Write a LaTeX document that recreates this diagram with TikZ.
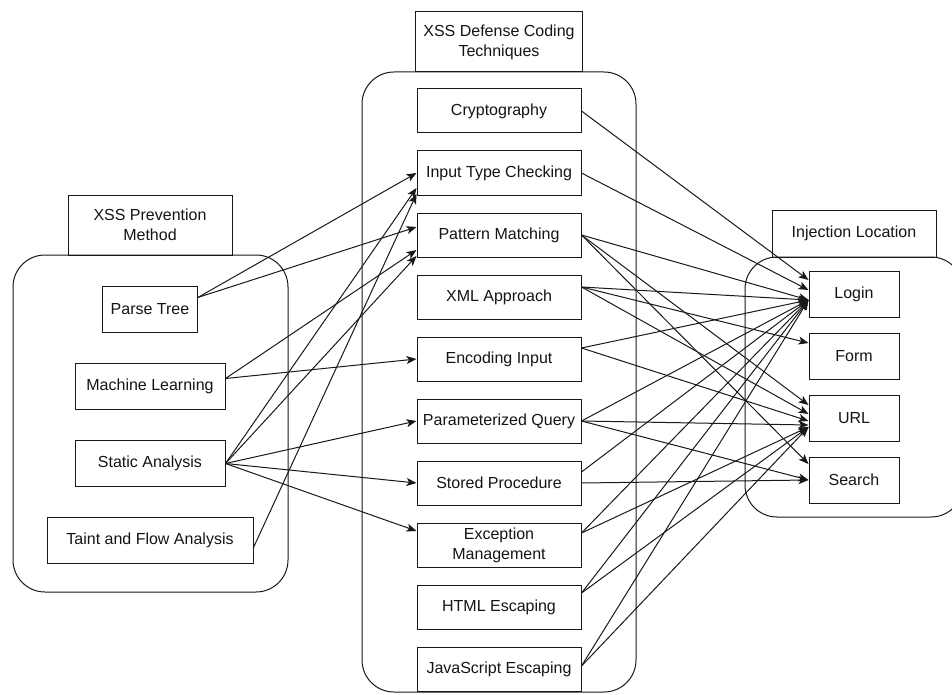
\documentclass[tikz,border=0pt]{standalone}
\usepackage{fontspec}
\setmainfont{Liberation Sans}
\usepackage{tikz}
\usetikzlibrary{positioning, calc, arrows.meta}

\begin{document}
\begin{tikzpicture}[
  x=1pt, y=-1pt,
  every node/.style={
    align=center,
    draw=strokeish,
    text=textish,
    line width=1pt,
    inner ysep=0pt,
    inner xsep=8pt,
    font=\fontsize{16pt}{20pt}\selectfont,
  },
  tech/.style={minimum width=164pt, minimum height=44pt, inner xsep=5pt},
  place/.style={minimum width=90pt, minimum height=46pt},
  method/.style={minimum height=46pt},
  header/.style={minimum width=164pt, minimum height=60pt},
  group/.style={draw=strokeish, line width=1pt, rounded corners=32pt},
  link/.style={draw=strokeish, line width=1pt, -{Stealth[length=10pt, width=8pt, inset=2.5pt]}},
]
  \definecolor{strokeish}{RGB}{25,25,25}
  \definecolor{textish}{RGB}{20,20,20}
  \useasboundingbox (0,0) rectangle (952,695);

  \draw[group] (13,255) rectangle (288,592);
  \draw[group] (362,72) rectangle (636,692);
  \draw[group] (745,257) rectangle (963,517);

  \node[header] (prevhead) at (150,225) {XSS Prevention\\Method};
  \node[header] (defhead) at (499,42) {XSS Defense Coding\\Techniques};
  \node[
    minimum width=164pt,
    minimum height=47pt,
  ] (lochead) at (854,233.5) {Injection Location};

  \node[method] (pt) at (150,309.5) {Parse Tree};
  \node[method, minimum width=150pt, below=30pt of pt] (ml) {Machine Learning};
  \node[method, minimum width=150pt, below=30pt of ml] (sa) {Static Analysis};
  \node[method, minimum width=206pt, below=30pt of sa] (tf) {Taint and Flow Analysis};

  \node[tech] (crypto) at (499,111) {Cryptography};
  \node[tech, below=17pt of crypto] (itc) {Input Type Checking};
  \node[tech, below=17pt of itc] (pm) {Pattern Matching};
  \node[tech, below=17pt of pm] (xml) {XML Approach};
  \node[tech, below=17pt of xml] (ei) {Encoding Input};
  \node[tech, below=17pt of ei] (pq) {Parameterized Query};
  \node[tech, below=17pt of pq] (sp) {Stored Procedure};
  \node[tech, below=17pt of sp] (em) {Exception\\Management};
  \node[tech, below=17pt of em] (html) {HTML Escaping};
  \node[tech, below=17pt of html] (js) {JavaScript Escaping};

  \node[place] (login) at (854,294) {Login};
  \node[place, below=15pt of login] (form) {Form};
  \node[place, below=15pt of form] (url) {URL};
  \node[place, below=15pt of url] (search) {Search};

  \draw[link] ([yshift=12pt]pt.east) -- (itc.west);
  \draw[link] ([yshift=12pt]pt.east) -- ([yshift=8pt]pm.west);
  \draw[link] ([yshift=8pt]ml.east) -- ([yshift=-15pt]pm.west);
  \draw[link] ([yshift=8pt]ml.east) -- (ei.west);
  \draw[link] (sa.east) -- ([yshift=-15pt]itc.west);
  \draw[link] (sa.east) -- ([yshift=-21pt]pm.west);
  \draw[link] (sa.east) -- (pq.west);
  \draw[link] (sa.east) -- (sp.west);
  \draw[link] (sa.east) -- ([yshift=14pt]em.west);
  \draw[link] ([yshift=-7pt]tf.east) -- ([yshift=-21pt]itc.west);

  \draw[link] (crypto.east) -- ([yshift=14pt]login.west);
  \draw[link] (itc.east) -- ([yshift=4pt]login.west);
  \draw[link] (pm.east) -- ([yshift=-6pt]login.west);
  \draw[link] (pm.east) -- ([yshift=13pt]url.west);
  \draw[link] (pm.east) -- ([yshift=16pt]search.west);
  \draw[link] ([yshift=10pt]xml.east) -- ([yshift=-6pt]login.west);
  \draw[link] ([yshift=10pt]xml.east) -- ([yshift=13pt]form.west);
  \draw[link] ([yshift=10pt]xml.east) -- ([yshift=4pt]url.west);
  \draw[link] ([yshift=11pt]ei.east) -- ([yshift=-6pt]login.west);
  \draw[link] ([yshift=11pt]ei.east) -- ([yshift=-3pt]url.west);
  \draw[link] (pq.east) -- ([yshift=-6pt]login.west);
  \draw[link] (pq.east) -- ([yshift=-7pt]url.west);
  \draw[link] (pq.east) -- (search.west);
  \draw[link] ([yshift=11pt]sp.east) -- ([yshift=-6pt]login.west);
  \draw[link] (sp.east) -- (search.west);
  \draw[link] ([yshift=12pt]em.east) -- ([yshift=-6pt]login.west);
  \draw[link] ([yshift=12pt]em.east) -- ([yshift=-9pt]url.west);
  \draw[link] ([yshift=14pt]html.east) -- ([yshift=-6pt]login.west);
  \draw[link] ([yshift=14pt]html.east) -- ([yshift=-9pt]url.west);
  \draw[link] ([yshift=3pt]js.east) -- ([yshift=-6pt]login.west);
  \draw[link] ([yshift=3pt]js.east) -- ([yshift=-9pt]url.west);
\end{tikzpicture}
\end{document}
